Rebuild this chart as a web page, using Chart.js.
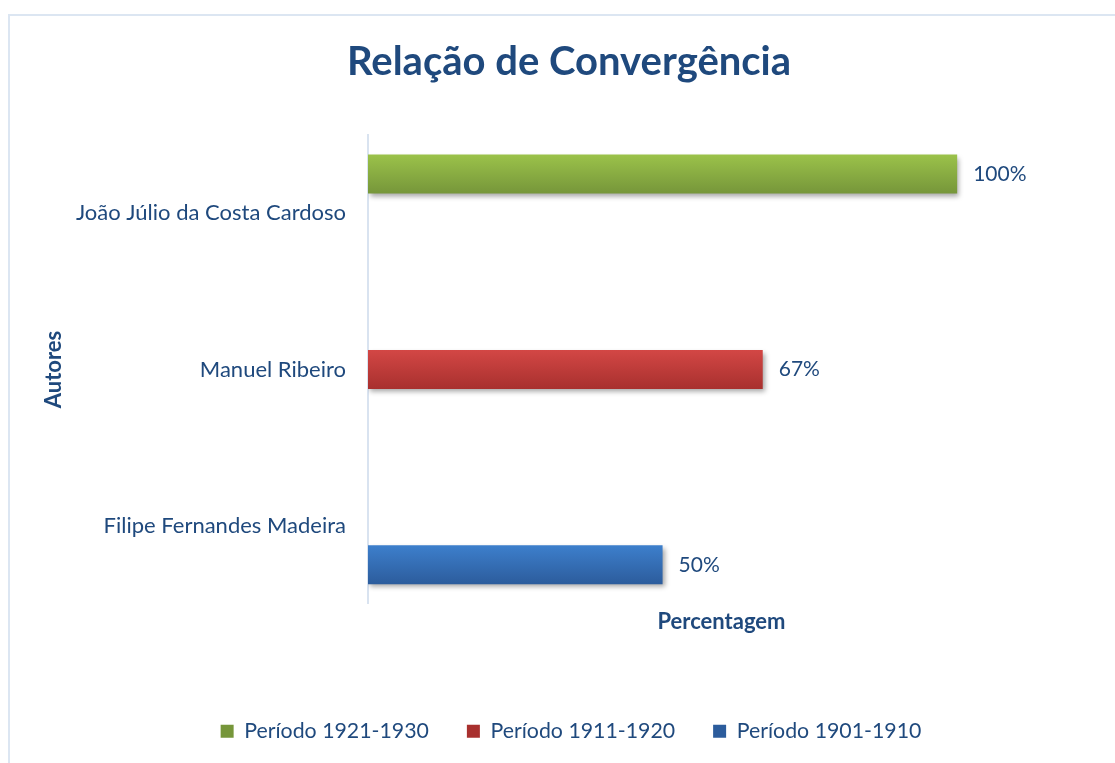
<!DOCTYPE html>
<html>
<head>
<meta charset="utf-8">
<script src="https://cdn.jsdelivr.net/npm/chart.js@4"></script>
<style>
  html, body { margin: 0; padding: 0; background: #ffffff; overflow: hidden; }
  #frame { position: absolute; left: 8px; top: 14px; width: 1200px; height: 900px; border: 2px solid #DCE6F2; box-sizing: border-box; }
  #wrap { position: absolute; left: 0; top: 0; width: 1115px; height: 763px; }
</style>
</head>
<body>
<div id="frame"></div>
<div id="wrap"><canvas id="c" width="1115" height="763"></canvas></div>
<script>
// ---- data ----
const categories = ['João Júlio da Costa Cardoso', 'Manuel Ribeiro', 'Filipe Fernandes Madeira'];
const seriesNames = ['Período 1921-1930', 'Período 1911-1920', 'Período 1901-1910'];
const values1921 = [100, null, null];
const values1911 = [null, 67, null];
const values1901 = [null, null, 50];
const chartTitle = 'Relação de Convergência';
const xTitle = 'Percentagem';
const yTitle = 'Autores';

const TEXT = '#1F497D';
const FONT = 'Lato';
const gradStops = [
  ['#9BC24A', '#76963A'],
  ['#D34745', '#A8302E'],
  ['#3D7FCC', '#2C5C9C']
];

const gradientPlugin = {
  id: 'grad',
  afterLayout(chart) {
    // Excel places the title and legend slightly right of the canvas centre
    if (chart.titleBlock) { chart.titleBlock.left += 11; chart.titleBlock.right += 11; }
    if (chart.legend) { chart.legend.left += 13; chart.legend.right += 13; }
  },
  beforeDatasetsDraw(chart) {
    const ctx = chart.ctx;
    chart.data.datasets.forEach((ds, di) => {
      const meta = chart.getDatasetMeta(di);
      meta.data.forEach((el, i) => {
        if (ds.data[i] == null) return;
        const top = el.y - el.height / 2, bot = el.y + el.height / 2;
        const g = ctx.createLinearGradient(0, top, 0, bot);
        g.addColorStop(0, gradStops[di][0]);
        g.addColorStop(1, gradStops[di][1]);
        el.options.backgroundColor = g;
      });
    });
    ctx.save();
    ctx.shadowColor = 'rgba(0,0,0,0.35)';
    ctx.shadowBlur = 5;
    ctx.shadowOffsetX = 2;
    ctx.shadowOffsetY = 3;
  },
  afterDatasetsDraw(chart) {
    const ctx = chart.ctx;
    ctx.restore();
    ctx.save();
    ctx.fillStyle = TEXT;
    ctx.font = '21px ' + FONT;
    ctx.textAlign = 'left';
    ctx.textBaseline = 'middle';
    chart.data.datasets.forEach((ds, di) => {
      const meta = chart.getDatasetMeta(di);
      meta.data.forEach((el, i) => {
        const v = ds.data[i];
        if (v == null) return;
        ctx.fillText(v + '%', el.x + 16, el.y);
      });
    });
    ctx.restore();
  }
};

const mkBg = (c) => (ctx) => c;

new Chart(document.getElementById('c'), {
  type: 'bar',
  data: {
    labels: categories,
    datasets: [
      { label: seriesNames[0], data: values1921, backgroundColor: mkBg('#9BBB59') },
      { label: seriesNames[1], data: values1911, backgroundColor: mkBg('#C0504D') },
      { label: seriesNames[2], data: values1901, backgroundColor: mkBg('#4F81BD') }
    ]
  },
  options: {
    indexAxis: 'y',
    responsive: false,
    animation: false,
    categoryPercentage: 0.75,
    barPercentage: 1.0,
    layout: { padding: { left: 41, right: 40, top: 20, bottom: 11 } },
    scales: {
      x: {
        min: 0, max: 120,
        ticks: { display: false },
        grid: { display: false },
        border: { display: false },
        title: { display: true, text: xTitle, color: TEXT, font: { family: FONT, size: 22, weight: 'bold', lineHeight: 0.9 }, padding: { top: 0, bottom: 51 } }
      },
      y: {
        grid: { display: false },
        border: { display: true, color: '#D9E3F0', width: 2 },
        ticks: { color: TEXT, font: { family: FONT, size: 22 }, padding: 14 },
        title: { display: true, text: yTitle, color: TEXT, font: { family: FONT, size: 22, weight: 'bold' }, padding: 0 },
        afterFit(scale) { scale.width = 368 - 41; }
      }
    },
    plugins: {
      title: {
        display: true, text: chartTitle, color: TEXT,
        font: { family: FONT, size: 40, weight: 'bold' },
        padding: { top: 18, bottom: 49 }
      },
      legend: {
        position: 'bottom',
        labels: {
          color: TEXT, font: { family: FONT, size: 21.3 },
          boxWidth: 13, boxHeight: 13, padding: 38,
          generateLabels(chart) {
            return chart.data.datasets.map((ds, i) => ({
              text: ds.label, fillStyle: gradStops[i][1], strokeStyle: 'transparent', lineWidth: 0, datasetIndex: i, fontColor: TEXT
            }));
          }
        }
      },
      tooltip: { enabled: false }
    }
  },
  plugins: [gradientPlugin]
});
</script>
</body>
</html>
